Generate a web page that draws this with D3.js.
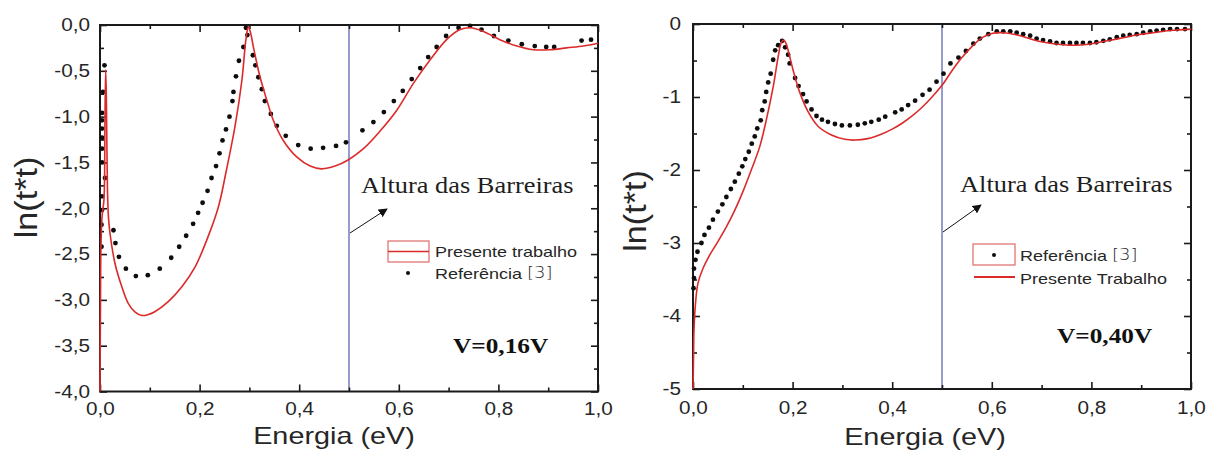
<!DOCTYPE html>
<html><head><meta charset="utf-8">
<script src="https://cdn.jsdelivr.net/npm/d3@7"></script>
<style>
html,body{margin:0;padding:0;background:#fff;}
svg{display:block;}
</style></head><body>
<svg id="chart" width="1208" height="457"></svg>
<script>
// ---- axis ticks ----
const energyTicks = [0, 0.2, 0.4, 0.6, 0.8, 1.0];
const energyMinor = [0.1, 0.3, 0.5, 0.7, 0.9];
const lnTicksA = [0, -0.5, -1, -1.5, -2, -2.5, -3, -3.5, -4];
const lnMinorA = [-0.25, -0.75, -1.25, -1.75, -2.25, -2.75, -3.25, -3.75];
const lnTicksB = [0, -1, -2, -3, -4, -5];
const lnMinorB = [-0.5, -1.5, -2.5, -3.5, -4.5];
const barrierEnergy = 0.5;

// ---- V = 0,16 V : present work (line) ----
const modelA = [[0,-4.0],[0.001,-3.0],[0.002,-2.4],[0.004,-2.1],[0.008,-1.9],[0.010,-1.0],[0.0115,-0.49],[0.013,-0.9],[0.015,-1.8],[0.017,-2.1],
 [0.020,-2.27],[0.030,-2.60],[0.044,-2.86],[0.057,-3.04],[0.070,-3.13],[0.084,-3.17],[0.097,-3.16],[0.110,-3.13],[0.137,-3.02],[0.164,-2.86],
 [0.191,-2.64],[0.217,-2.31],[0.238,-1.98],[0.254,-1.58],[0.271,-1.11],[0.285,-0.60],[0.293,-0.16],[0.298,-0.02],[0.303,-0.10],[0.308,-0.24],
 [0.321,-0.56],[0.335,-0.82],[0.348,-1.04],[0.368,-1.26],[0.395,-1.44],[0.422,-1.54],[0.445,-1.57],[0.472,-1.54],[0.499,-1.47],[0.529,-1.35],
 [0.562,-1.16],[0.596,-0.93],[0.629,-0.64],[0.663,-0.38],[0.696,-0.16],[0.723,-0.05],[0.743,-0.03],[0.770,-0.07],[0.803,-0.16],[0.837,-0.23],
 [0.870,-0.27],[0.904,-0.27],[0.937,-0.25],[0.971,-0.23],[1.0,-0.20]];

// ---- V = 0,16 V : reference [3] (points) ----
const refA = [[0.003,-2.42],[0.003,-2.18],[0.004,-2.02],[0.004,-1.87],[0.004,-1.50],[0.004,-1.35],[0.004,-1.23],[0.004,-1.13],[0.004,-1.04],
 [0.004,-0.96],[0.006,-0.73],[0.009,-0.44],[0.010,-1.67],
 [0.027,-2.24],[0.031,-2.38],[0.038,-2.53],[0.052,-2.66],[0.072,-2.74],[0.096,-2.73],[0.120,-2.66],[0.143,-2.54],[0.159,-2.42],[0.173,-2.30],
 [0.187,-2.17],[0.197,-2.05],[0.206,-1.94],[0.216,-1.81],[0.224,-1.67],[0.233,-1.54],[0.240,-1.40],[0.246,-1.26],[0.253,-1.14],[0.260,-1.00],
 [0.266,-0.83],[0.268,-0.73],[0.273,-0.56],[0.279,-0.39],[0.288,-0.24],[0.293,-0.03],[0.296,-0.11],[0.307,-0.33],[0.312,-0.44],[0.318,-0.57],
 [0.325,-0.70],[0.331,-0.83],[0.343,-0.97],[0.355,-1.10],[0.373,-1.21],[0.398,-1.31],[0.423,-1.35],[0.448,-1.34],[0.474,-1.32],[0.494,-1.28],
 [0.527,-1.15],[0.549,-1.06],[0.570,-0.95],[0.590,-0.83],[0.608,-0.72],[0.626,-0.59],[0.643,-0.47],[0.659,-0.35],[0.676,-0.24],[0.695,-0.12],
 [0.720,-0.03],[0.743,-0.01],[0.766,-0.05],[0.791,-0.12],[0.820,-0.17],[0.847,-0.21],[0.873,-0.23],[0.896,-0.24],[0.912,-0.24],[0.967,-0.17],
 [0.986,-0.16]];

// ---- V = 0,40 V : present work (line) ----
const modelB = [[0,-5.0],[0.001,-4.6],[0.002,-4.19],[0.005,-3.83],[0.010,-3.55],[0.020,-3.35],[0.034,-3.16],[0.050,-2.98],[0.067,-2.78],
 [0.084,-2.55],[0.100,-2.30],[0.117,-2.00],[0.134,-1.68],[0.147,-1.32],[0.161,-0.86],[0.171,-0.45],[0.177,-0.26],[0.182,-0.22],[0.187,-0.27],
 [0.191,-0.36],[0.201,-0.63],[0.214,-0.93],[0.231,-1.20],[0.251,-1.40],[0.278,-1.52],[0.305,-1.58],[0.325,-1.59],[0.351,-1.57],[0.378,-1.51],
 [0.400,-1.44],[0.420,-1.36],[0.440,-1.26],[0.460,-1.14],[0.480,-1.00],[0.500,-0.84],[0.520,-0.64],[0.540,-0.46],[0.560,-0.31],[0.580,-0.19],
 [0.600,-0.13],[0.623,-0.12],[0.657,-0.16],[0.690,-0.23],[0.724,-0.27],[0.757,-0.29],[0.790,-0.28],[0.824,-0.24],[0.855,-0.20],[0.891,-0.15],
 [0.924,-0.12],[0.958,-0.09],[1.0,-0.07]];

// ---- V = 0,40 V : reference [3] (points) ----
const refB = [[0.001,-3.62],[0.002,-3.48],[0.002,-3.35],[0.005,-3.23],[0.009,-3.12],[0.017,-3.00],[0.023,-2.89],[0.032,-2.79],[0.040,-2.68],
 [0.050,-2.57],[0.059,-2.47],[0.067,-2.37],[0.076,-2.26],[0.084,-2.16],[0.092,-2.05],[0.099,-1.95],[0.105,-1.85],[0.112,-1.75],[0.118,-1.64],
 [0.124,-1.54],[0.129,-1.43],[0.136,-1.32],[0.139,-1.18],[0.144,-1.06],[0.147,-0.93],[0.151,-0.80],[0.156,-0.68],[0.161,-0.49],[0.165,-0.36],
 [0.171,-0.29],[0.179,-0.23],[0.185,-0.32],[0.191,-0.42],[0.194,-0.54],[0.205,-0.74],[0.212,-0.85],[0.221,-0.96],[0.228,-1.06],[0.238,-1.17],
 [0.248,-1.26],[0.259,-1.31],[0.271,-1.34],[0.285,-1.37],[0.299,-1.39],[0.315,-1.39],[0.331,-1.38],[0.345,-1.36],[0.358,-1.34],[0.373,-1.31],
 [0.386,-1.27],[0.406,-1.21],[0.419,-1.17],[0.432,-1.11],[0.446,-1.05],[0.461,-0.97],[0.475,-0.90],[0.489,-0.79],[0.503,-0.68],[0.517,-0.54],
 [0.533,-0.46],[0.548,-0.37],[0.563,-0.27],[0.576,-0.20],[0.593,-0.14],[0.610,-0.10],[0.623,-0.10],[0.637,-0.10],[0.650,-0.12],[0.663,-0.14],
 [0.677,-0.16],[0.690,-0.20],[0.703,-0.22],[0.717,-0.24],[0.730,-0.26],[0.743,-0.26],[0.757,-0.26],[0.770,-0.26],[0.783,-0.26],[0.797,-0.26],
 [0.810,-0.25],[0.824,-0.23],[0.837,-0.21],[0.851,-0.18],[0.864,-0.16],[0.877,-0.15],[0.891,-0.14],[0.904,-0.12],[0.918,-0.10],[0.931,-0.09],
 [0.944,-0.08],[0.958,-0.07],[0.972,-0.07],[0.988,-0.07]];

const RED = "#dc2a2a", INK = "#262626", BLUE = "#7c83c2";
const SANS = "Liberation Sans, Arial, sans-serif";
const SERIF = "Liberation Serif, Times New Roman, serif";

const commaFmt = d => d.toFixed(1).replace(".", ",");
const intFmt = d => String(d);

const panels = [
  { model: modelA, ref: refA, yDomain: [-4, 0], yTicks: lnTicksA, yMinor: lnMinorA, yFmt: commaFmt,
    xr: [100, 598], yr: [391.5, 25], xPad: 11, yPad: 10,
    ylab: [36.5, 197.5], xlab: [334, 444],
    note: [361, 193], arrow: [[350, 233], [387, 209]],
    volt: "V=0,16V", voltPos: [453, 353],
    legend: { first: "line", box: [388, 241, 41, 21], t1: "Presente trabalho", t1y: 257, t2y: 279, tx: 435, dot: [408, 273] } },
  { model: modelB, ref: refB, yDomain: [-5, 0], yTicks: lnTicksB, yMinor: lnMinorB, yFmt: intFmt,
    xr: [693, 1191], yr: [389, 24], xPad: 12, yPad: 12,
    ylab: [645.5, 211], xlab: [925, 445],
    note: [960, 192], arrow: [[943, 232], [981, 205]],
    volt: "V=0,40V", voltPos: [1057, 343],
    legend: { first: "dot", box: [973, 244, 42, 21], t1: "Presente Trabalho", t1y: 284, t2y: 261, tx: 1020, dot: [994, 255], lineY: 277 } }
];

const svg = d3.select("#chart");

// arrowhead
svg.append("defs").append("marker")
  .attr("id", "head").attr("viewBox", "0 0 10 10").attr("refX", 9).attr("refY", 5)
  .attr("markerWidth", 9).attr("markerHeight", 9).attr("markerUnits", "userSpaceOnUse").attr("orient", "auto")
  .append("path").attr("d", "M0,0 L10,5 L0,10 z").attr("fill", "#111");

function stretch(sel, k) {
  sel.each(function () {
    const w = this.getComputedTextLength();
    d3.select(this).attr("textLength", w * k).attr("lengthAdjust", "spacingAndGlyphs");
  });
}

panels.forEach(p => {
  const x = d3.scaleLinear().domain([0, 1]).range(p.xr);
  const y = d3.scaleLinear().domain(p.yDomain).range(p.yr);
  const g = svg.append("g");
  const [x0, x1] = p.xr, [yb, yt] = p.yr;

  // barrier height marker
  g.append("line").attr("x1", x(barrierEnergy)).attr("x2", x(barrierEnergy))
    .attr("y1", yt).attr("y2", yb).attr("stroke", BLUE).attr("stroke-width", 1.6);

  // axes with inward ticks on all four sides
  const mk = (gen, pos, ticks, size, fmt, pad) => {
    const a = g.append("g").attr("transform", pos)
      .call(gen.tickValues(ticks).tickSizeInner(size).tickSizeOuter(0).tickPadding(pad || 3).tickFormat(fmt || (() => "")));
    a.select(".domain").remove();
    a.selectAll(".tick line").attr("stroke", "#1a1a1a").attr("stroke-width", 1.6);
    return a;
  };
  const bx = mk(d3.axisBottom(x), `translate(0,${yb})`, energyTicks, -7, commaFmt, p.xPad);
  mk(d3.axisBottom(x), `translate(0,${yb})`, energyMinor, -4);
  mk(d3.axisTop(x), `translate(0,${yt})`, energyTicks, -7);
  mk(d3.axisTop(x), `translate(0,${yt})`, energyMinor, -4);
  const ly = mk(d3.axisLeft(y), `translate(${x0},0)`, p.yTicks, -7, p.yFmt, p.yPad);
  mk(d3.axisLeft(y), `translate(${x0},0)`, p.yMinor, -4);
  mk(d3.axisRight(y), `translate(${x1},0)`, p.yTicks, -7);
  mk(d3.axisRight(y), `translate(${x1},0)`, p.yMinor, -4);

  [bx, ly].forEach(a => a.selectAll(".tick text")
    .attr("font-family", SANS).attr("font-size", 18).attr("fill", INK).call(stretch, 1.15));

  // frame
  g.append("rect").attr("x", x0).attr("y", yt).attr("width", x1 - x0).attr("height", yb - yt)
    .attr("fill", "none").attr("stroke", "#1a1a1a").attr("stroke-width", 2);

  // reference points
  g.append("g").selectAll("circle").data(p.ref).join("circle")
    .attr("cx", d => x(d[0])).attr("cy", d => y(d[1])).attr("r", 2.4).attr("fill", "#0d0d0d");

  // present work curve
  g.append("path").datum(p.model)
    .attr("d", d3.line().x(d => x(d[0])).y(d => y(d[1])).curve(d3.curveCatmullRom.alpha(0.5)))
    .attr("fill", "none").attr("stroke", RED).attr("stroke-width", 1.6);

  // axis titles
  g.append("text").attr("x", p.xlab[0]).attr("y", p.xlab[1]).attr("text-anchor", "middle")
    .attr("font-family", SANS).attr("font-size", 24).attr("fill", INK).text("Energia (eV)").call(stretch, 1.2);
  g.append("text").attr("transform", `translate(${p.ylab[0]},${p.ylab[1]}) rotate(-90)`).attr("text-anchor", "middle")
    .attr("font-family", SANS).attr("font-size", 31).attr("fill", INK).text("ln(t*t)").call(stretch, 1.1);

  // barrier annotation
  g.append("text").attr("x", p.note[0]).attr("y", p.note[1]).attr("font-family", SERIF).attr("font-size", 24)
    .attr("fill", "#1e1e1e").text("Altura das Barreiras").call(stretch, 1.1);
  g.append("line").attr("x1", p.arrow[0][0]).attr("y1", p.arrow[0][1]).attr("x2", p.arrow[1][0]).attr("y2", p.arrow[1][1])
    .attr("stroke", "#111").attr("stroke-width", 1).attr("marker-end", "url(#head)");

  // bias label
  g.append("text").attr("x", p.voltPos[0]).attr("y", p.voltPos[1]).attr("font-family", SERIF).attr("font-weight", "bold")
    .attr("font-size", 22).attr("fill", "#111").text(p.volt).call(stretch, 1.15);

  // legend
  const L = p.legend;
  const [bxp, byp, bw, bh] = L.box;
  g.append("rect").attr("x", bxp).attr("y", byp).attr("width", bw).attr("height", bh)
    .attr("fill", "none").attr("stroke", "#e06a6a").attr("stroke-width", 1.2);
  if (L.first === "line") {
    g.append("line").attr("x1", bxp).attr("x2", bxp + bw).attr("y1", byp + bh / 2).attr("y2", byp + bh / 2)
      .attr("stroke", RED).attr("stroke-width", 1.6);
  } else {
    g.append("line").attr("x1", bxp + 1).attr("x2", bxp + bw).attr("y1", L.lineY).attr("y2", L.lineY)
      .attr("stroke", RED).attr("stroke-width", 1.8);
  }
  g.append("circle").attr("cx", L.dot[0]).attr("cy", L.dot[1]).attr("r", 2).attr("fill", "#0d0d0d");
  g.append("text").attr("x", L.tx).attr("y", L.t1y).attr("font-family", SANS).attr("font-size", 15)
    .attr("fill", INK).text(L.t1).call(stretch, 1.2);
  const rt = g.append("text").attr("x", L.tx).attr("y", L.t2y).attr("font-family", SANS).attr("font-size", 15).attr("fill", INK);
  rt.append("tspan").text("Referência ");
  rt.append("tspan").attr("font-family", "DejaVu Sans, sans-serif").attr("font-weight", 300).attr("dy", -1).text("[3]");
  rt.call(stretch, 1.2);
});
</script>
</body></html>
